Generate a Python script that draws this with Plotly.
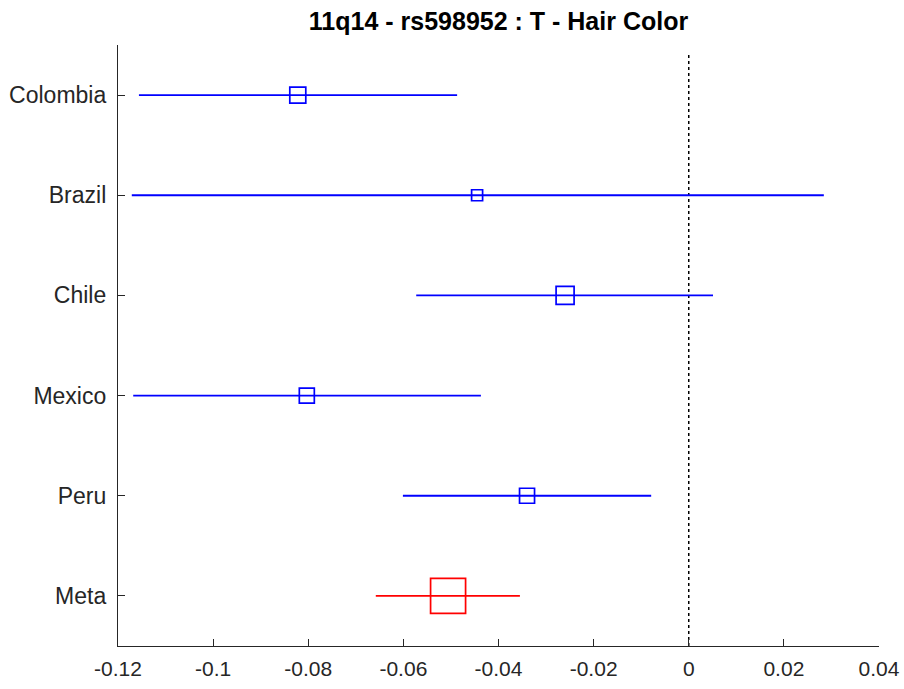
import plotly.graph_objects as go

categories = ["Colombia", "Brazil", "Chile", "Mexico", "Peru", "Meta"]
estimates = [-0.0822, -0.0445, -0.0260, -0.0803, -0.0340, -0.0506]
ci_low = [-0.1156, -0.1171, -0.0573, -0.1168, -0.0601, -0.0658]
ci_high = [-0.0487, 0.0284, 0.0051, -0.0437, -0.0079, -0.0355]
weights_px = [16, 11, 18, 15, 15, 35]
colors = ["#0000FF", "#0000FF", "#0000FF", "#0000FF", "#0000FF", "#FF0000"]
x_ticks = [-0.12, -0.1, -0.08, -0.06, -0.04, -0.02, 0, 0.02, 0.04]
x_tick_text = ["-0.12", "-0.1", "-0.08", "-0.06", "-0.04", "-0.02", "0", "0.02", "0.04"]
ref_x = 0

fig = go.Figure()
for cat, est, lo, hi, sz, col in zip(categories, estimates, ci_low, ci_high, weights_px, colors):
    fig.add_trace(go.Scatter(x=[lo, hi], y=[cat, cat], mode="lines",
                             line=dict(color=col, width=1.8), showlegend=False, hoverinfo="skip"))
    fig.add_trace(go.Scatter(x=[est], y=[cat], mode="markers",
                             marker=dict(symbol="square-open", size=sz, color=col,
                                         line=dict(color=col, width=1.7)),
                             showlegend=False))

n = len(categories)
fig.add_shape(type="line", x0=ref_x, x1=ref_x, y0=-0.5, y1=n - 0.6, xref="x", yref="y",
              line=dict(color="black", width=1.5, dash="dot"), layer="below")

fig.update_layout(
    width=904, height=689,
    margin=dict(l=118, r=25, t=45, b=43),
    paper_bgcolor="white", plot_bgcolor="white",
    font=dict(family="Liberation Sans, Arial, sans-serif", size=20, color="#262626"),
    title=dict(text="<b>11q14 - rs598952 : T - Hair Color</b>", x=0.5, xref="paper",
               y=1 - 21 / 689, yref="container", yanchor="middle", xanchor="center",
               font=dict(size=25, color="black")),
    xaxis=dict(range=[-0.12, 0.04], tickvals=x_ticks, ticktext=x_tick_text,
               showgrid=False, zeroline=False, showline=True, linecolor="#262626", linewidth=1.3,
               ticks="inside", ticklen=7, tickcolor="#262626", tickwidth=1.3,
               tickfont=dict(size=21), mirror=False, ticklabelstandoff=4, automargin=False),
    yaxis=dict(type="category", categoryorder="array", categoryarray=categories[::-1],
               range=[-0.5, n - 0.5], showgrid=False, zeroline=False, showline=True,
               linecolor="#262626", linewidth=1.3, ticks="inside", ticklen=7,
               tickcolor="#262626", tickwidth=1.3, tickfont=dict(size=23),
               ticklabelstandoff=6, automargin=False),
)

fig.write_html("out.html")
